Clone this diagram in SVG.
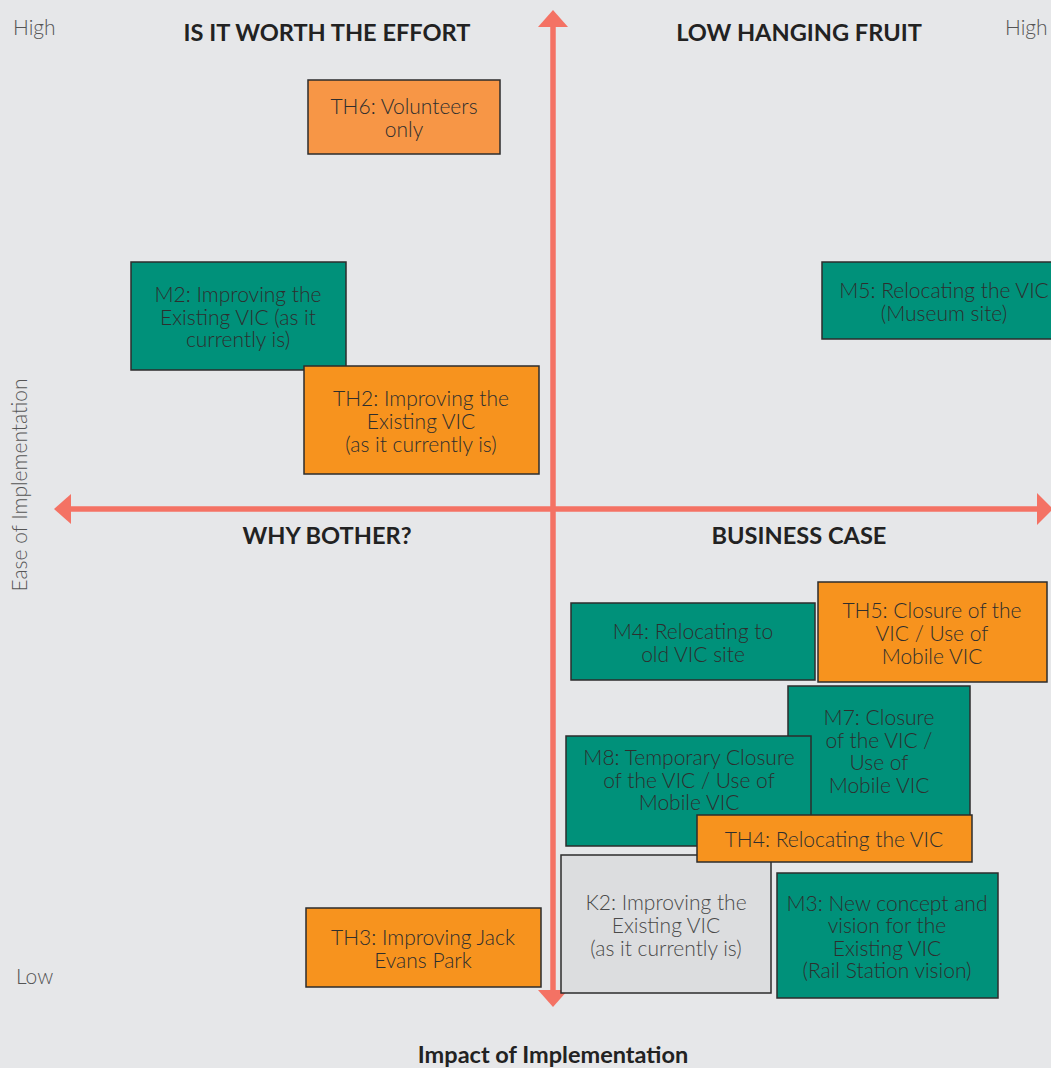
<svg xmlns="http://www.w3.org/2000/svg" width="1051" height="1068" viewBox="0 0 1051 1068">
<style>
.bg{fill:#e6e7e9}
.box{stroke:#2d2d2d;stroke-width:1.5}
.teal{fill:#00917a}
.or{fill:#f7931e}
.or2{fill:#f79646}
.gray{fill:#dcdddf}
.t{font-family:Lato,"Open Sans","Liberation Sans",sans-serif;font-weight:300;font-size:21px;fill:#2e2e2e;text-anchor:middle}
.tg{fill:#4a4a4a}
.h{font-family:Lato,"Liberation Sans",sans-serif;font-weight:700;font-size:23.6px;fill:#222;text-anchor:middle}
.ax{font-family:Lato,"Liberation Sans",sans-serif;font-weight:300;font-size:21px;fill:#555}
.axis{stroke:#f47264;stroke-width:5.5;fill:none}
.head{fill:#f47264}
</style>
<rect class="bg" x="0" y="0" width="1051" height="1068"/>
<g id="connectors">
<line class="axis" x1="70" y1="509" x2="1040" y2="509"/>
<line class="axis" x1="553" y1="25" x2="553" y2="992"/>
<polygon class="head" points="54,509 71,494 71,524"/>
<polygon class="head" points="1053,509 1037,493 1037,525"/>
<polygon class="head" points="553,10 538,27 568,27"/>
<polygon class="head" points="553,1007 538,990 568,990"/>
</g>
<g id="labels">
<text class="h" x="327" y="41">IS IT WORTH THE EFFORT</text>
<text class="h" x="799" y="41">LOW HANGING FRUIT</text>
<text class="h" x="327" y="544">WHY BOTHER?</text>
<text class="h" x="799" y="544">BUSINESS CASE</text>
<text class="h" x="553" y="1063" style="font-size:23.5px">Impact of Implementation</text>
<text class="ax" x="13" y="35">High</text>
<text class="ax" x="1005" y="35">High</text>
<text class="ax" x="16" y="984">Low</text>
<text class="ax" x="27" y="485" text-anchor="middle" transform="rotate(-90 27 485)">Ease of Implementation</text>
</g>
<g id="TH6">
<rect class="box or2" x="308" y="80" width="192" height="74"/>
<text class="t" x="404" y="114">TH6: Volunteers</text>
<text class="t" x="404" y="137">only</text>
</g>
<g id="M2">
<rect class="box teal" x="131" y="262" width="215" height="108"/>
<text class="t" x="238" y="302">M2: Improving the</text>
<text class="t" x="238" y="325">Existing VIC (as it</text>
<text class="t" x="238" y="347">currently is)</text>
</g>
<g id="TH2">
<rect class="box or" x="304" y="366" width="235" height="108"/>
<text class="t" x="421" y="406">TH2: Improving the</text>
<text class="t" x="421" y="429">Existing VIC</text>
<text class="t" x="421" y="452">(as it currently is)</text>
</g>
<g id="M5">
<rect class="box teal" x="822" y="262" width="240" height="77"/>
<text class="t" x="944" y="298">M5: Relocating the VIC</text>
<text class="t" x="944" y="321">(Museum site)</text>
</g>
<g id="M4">
<rect class="box teal" x="571" y="603" width="244" height="77"/>
<text class="t" x="693" y="639">M4: Relocating to</text>
<text class="t" x="693" y="662">old VIC site</text>
</g>
<g id="TH5">
<rect class="box or" x="818" y="582" width="229" height="100"/>
<text class="t" x="932" y="618">TH5: Closure of the</text>
<text class="t" x="932" y="641">VIC / Use of</text>
<text class="t" x="932" y="664">Mobile VIC</text>
</g>
<g id="M7">
<rect class="box teal" x="788" y="686" width="182" height="140"/>
<text class="t" x="879" y="725">M7: Closure</text>
<text class="t" x="879" y="748">of the VIC /</text>
<text class="t" x="879" y="770">Use of</text>
<text class="t" x="879" y="793">Mobile VIC</text>
</g>
<g id="M8">
<rect class="box teal" x="566" y="736" width="245" height="110"/>
<text class="t" x="689" y="765">M8: Temporary Closure</text>
<text class="t" x="689" y="788">of the VIC / Use of</text>
<text class="t" x="689" y="810">Mobile VIC</text>
</g>
<g id="K2">
<rect class="box gray" x="561" y="855" width="210" height="138"/>
<text class="t tg" x="666" y="910">K2: Improving the</text>
<text class="t tg" x="666" y="933">Existing VIC</text>
<text class="t tg" x="666" y="956">(as it currently is)</text>
</g>
<g id="TH4">
<rect class="box or" x="697" y="815" width="275" height="47"/>
<text class="t" x="834" y="847">TH4: Relocating the VIC</text>
</g>
<g id="M3">
<rect class="box teal" x="777" y="873" width="221" height="125"/>
<text class="t" x="887" y="911">M3: New concept and</text>
<text class="t" x="887" y="933">vision for the</text>
<text class="t" x="887" y="956">Existing VIC</text>
<text class="t" x="887" y="978">(Rail Station vision)</text>
</g>
<g id="TH3">
<rect class="box or" x="306" y="908" width="235" height="79"/>
<text class="t" x="423" y="945">TH3: Improving Jack</text>
<text class="t" x="423" y="968">Evans Park</text>
</g>
</svg>
